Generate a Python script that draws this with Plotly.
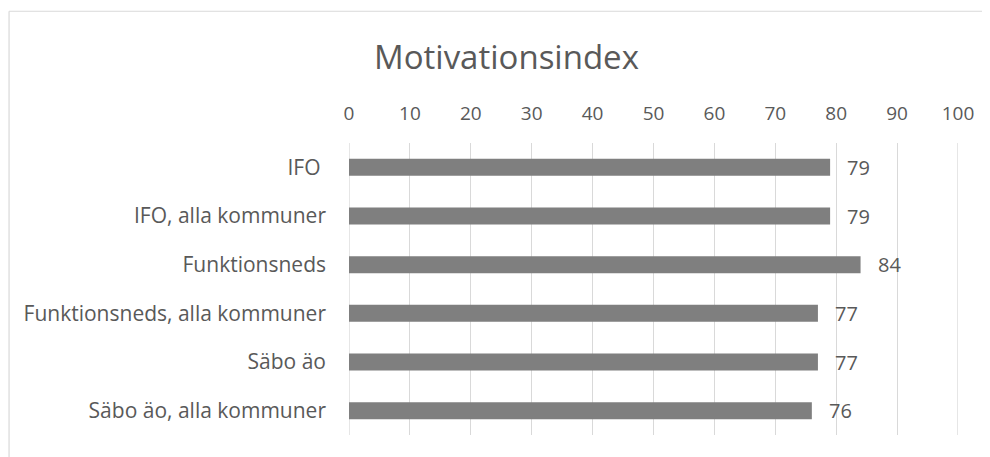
import plotly.graph_objects as go

categories = ["IFO ", "IFO, alla kommuner", "Funktionsneds", "Funktionsneds, alla kommuner",
              "Säbo äo", "Säbo äo, alla kommuner"]
values = [79, 79, 84, 77, 77, 76]
tick_vals = list(range(0, 101, 10))
title_text = "Motivationsindex"

OFF = 8  # default body margin of the html page
W, H = 990 - OFF, 457 - OFF
L, R = 348.5 - OFF, 958.5 - OFF
T, B = 143 - OFF, 435.5 - OFF

FONT = "Open Sans"
TXT = "#595959"
GRID = "#d9d9d9"

fig = go.Figure()
fig.add_trace(go.Bar(
    y=categories, x=values, orientation="h",
    marker=dict(color="#7f7f7f", line=dict(width=0)),
    hoverinfo="x+y",
))

for c, v in zip(categories, values):
    fig.add_annotation(x=v, y=c, text=str(v), showarrow=False, xanchor="left",
                       xshift=15, font=dict(family=FONT, size=20, color=TXT))

# gridlines at the ends of the value axis (plotly drops them at the range edges)
for xv in (tick_vals[0], tick_vals[-1]):
    fig.add_shape(type="line", xref="x", yref="paper", x0=xv, x1=xv, y0=0, y1=1,
                  layer="below", line=dict(color=GRID, width=1.3))

def px_x(p):
    return (p - OFF - L) / (R - L)

def px_y(p):
    return (B - (p - OFF)) / (B - T)

# chart border (top and left edges visible)
fig.add_shape(type="line", xref="paper", yref="paper", x0=px_x(8), x1=px_x(1000),
              y0=px_y(11), y1=px_y(11), line=dict(color=GRID, width=1.2))
fig.add_shape(type="line", xref="paper", yref="paper", x0=px_x(8), x1=px_x(8),
              y0=px_y(11), y1=px_y(470), line=dict(color=GRID, width=1.2))

fig.add_annotation(xref="paper", yref="paper", x=px_x(506), y=px_y(56), text=title_text,
                   showarrow=False, xanchor="center", yanchor="middle",
                   font=dict(family=FONT, size=33, color=TXT))

fig.update_layout(
    width=W, height=H,
    margin=dict(l=L, r=W - R, t=T, b=H - B, pad=0),
    paper_bgcolor="white", plot_bgcolor="white",
    bargap=0.65,
    showlegend=False,
    xaxis=dict(range=[0, 100], tickvals=tick_vals, side="top", showgrid=True,
               gridcolor=GRID, gridwidth=1.3, zeroline=False, showline=False,
               ticks="", ticklen=0, ticklabelstandoff=18,
               tickfont=dict(family=FONT, size=19, color=TXT),
               fixedrange=True),
    yaxis=dict(autorange="reversed", showgrid=False, zeroline=False, showline=False,
               ticks="", ticklen=0, ticklabelstandoff=22,
               tickfont=dict(family=FONT, size=21, color=TXT), fixedrange=True),
)

fig.write_html("out.html")
